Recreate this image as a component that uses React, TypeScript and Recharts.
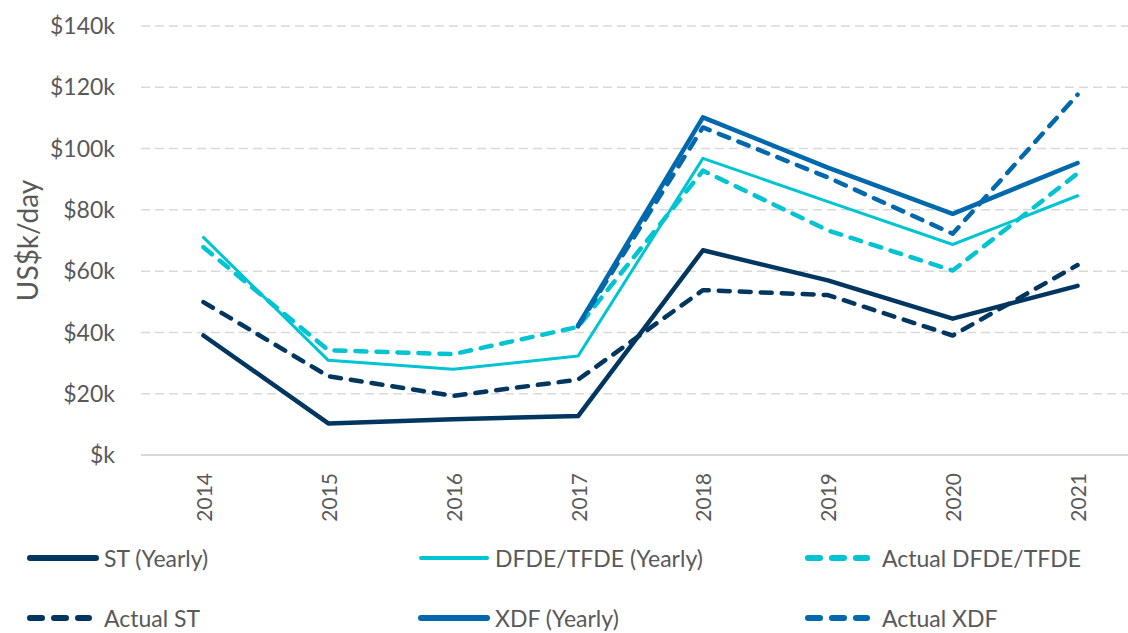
import { CartesianGrid, Label, Line, LineChart, XAxis, YAxis } from "recharts";

const years = ["2014", "2015", "2016", "2017", "2018", "2019", "2020", "2021"];
const stYearly = [39, 10.3, 11.7, 12.7, 66.8, 57, 44.5, 55.2];
const dfdeYearly = [71, 30.9, 28, 32.3, 96.8, 82.7, 68.7, 84.6];
const actualDfde = [67.8, 34.2, 32.9, 41.8, 92.8, 73.3, 60.2, 91.9];
const actualSt = [49.9, 25.7, 19.3, 24.6, 53.8, 52.2, 39, 62];
const xdfYearly = [null, null, null, 42.3, 110.2, 93.8, 78.7, 95.3];
const actualXdf = [null, null, null, 42, 106.9, 90.6, 72.2, 117.6];
const yTicks = [0, 20, 40, 60, 80, 100, 120, 140];

const NAVY = "#00365F";
const CYAN = "#00C4D2";
const BLUE = "#0068AC";
const TEXT = "#595959";

const series = [
  { key: "stYearly", name: "ST (Yearly)", values: stYearly, color: NAVY, width: 4.5, dashed: false },
  { key: "dfdeYearly", name: "DFDE/TFDE (Yearly)", values: dfdeYearly, color: CYAN, width: 3, dashed: false },
  { key: "actualDfde", name: "Actual DFDE/TFDE", values: actualDfde, color: CYAN, width: 4.5, dashed: true },
  { key: "actualSt", name: "Actual ST", values: actualSt, color: NAVY, width: 4.5, dashed: true },
  { key: "xdfYearly", name: "XDF (Yearly)", values: xdfYearly, color: BLUE, width: 4.5, dashed: false },
  { key: "actualXdf", name: "Actual XDF", values: actualXdf, color: BLUE, width: 4.5, dashed: true },
];

const chartData = years.map((year, i) => {
  const row: Record<string, number | string | null> = { year };
  series.forEach((s) => {
    row[s.key] = s.values[i];
  });
  return row;
});

const YearTick = ({ x, y, payload }: any) => (
  <text
    transform={`translate(${x},${y + 18}) rotate(-90)`}
    textAnchor="end"
    dominantBaseline="central"
    fill={TEXT}
    fontSize={21}
    fontFamily="Lato"
  >
    {payload.value}
  </text>
);

const YLabel = ({ viewBox }: any) => (
  <text
    transform={`translate(27,${viewBox.y + viewBox.height / 2}) rotate(-90)`}
    textAnchor="middle"
    dominantBaseline="central"
    fill={TEXT}
    fontSize={28}
    fontFamily="Lato"
  >
    US$k/day
  </text>
);

const legendCols = [27, 418, 805];
const legendRows = [558, 618];

const ChartLegend = () => (
  <svg width={1128} height={633} style={{ position: "absolute", left: 0, top: 0, pointerEvents: "none" }}>
    {series.map((s, i) => {
      const x = legendCols[i % 3];
      const y = legendRows[Math.floor(i / 3)];
      return (
        <g key={s.key}>
          <line
            x1={x + 3}
            x2={s.dashed ? x + 62 : x + 69}
            y1={y}
            y2={y}
            stroke={s.color}
            strokeWidth={s.width > 3 ? 6 : 4}
            strokeLinecap="round"
            strokeDasharray={s.dashed ? "12 12" : undefined}
          />
          <text x={x + 77} y={y} dominantBaseline="central" fill={TEXT} fontSize={23} fontFamily="Lato">
            {s.name}
          </text>
        </g>
      );
    })}
  </svg>
);

export default function App() {
  return (
    <div style={{ position: "absolute", left: 0, top: 0, width: 1128, height: 633, overflow: "hidden", background: "#fff" }}>
      <LineChart width={1140} height={633} data={chartData} margin={{ top: 26, right: 0, left: 0, bottom: 108 }}>
        <CartesianGrid vertical={false} stroke="#d9d9d9" strokeWidth={1.5} strokeDasharray="9 5" />
        <XAxis
          dataKey="year"
          scale="band"
          height={70}
          tick={<YearTick />}
          tickLine={false}
          tickSize={0}
          tickMargin={0}
          axisLine={{ stroke: "#d9d9d9", strokeWidth: 2 }}
          interval={0}
        />
        <YAxis
          width={141}
          domain={[0, 140]}
          ticks={yTicks}
          tickFormatter={(v: number) => `$${v === 0 ? "" : v}k`}
          tick={{ fill: TEXT, fontSize: 23, fontFamily: "Lato" }}
          tickLine={false}
          tickSize={0}
          tickMargin={26}
          axisLine={false}
        >
          <Label content={<YLabel />} />
        </YAxis>
        {series.map((s) => (
          <Line
            key={s.key}
            type="linear"
            dataKey={s.key}
            name={s.name}
            stroke={s.color}
            strokeWidth={s.width}
            strokeDasharray={s.dashed ? "11 10" : undefined}
            strokeLinecap="round"
            strokeLinejoin="round"
            dot={false}
            activeDot={false}
            isAnimationActive={false}
          />
        ))}
      </LineChart>
      <ChartLegend />
    </div>
  );
}
